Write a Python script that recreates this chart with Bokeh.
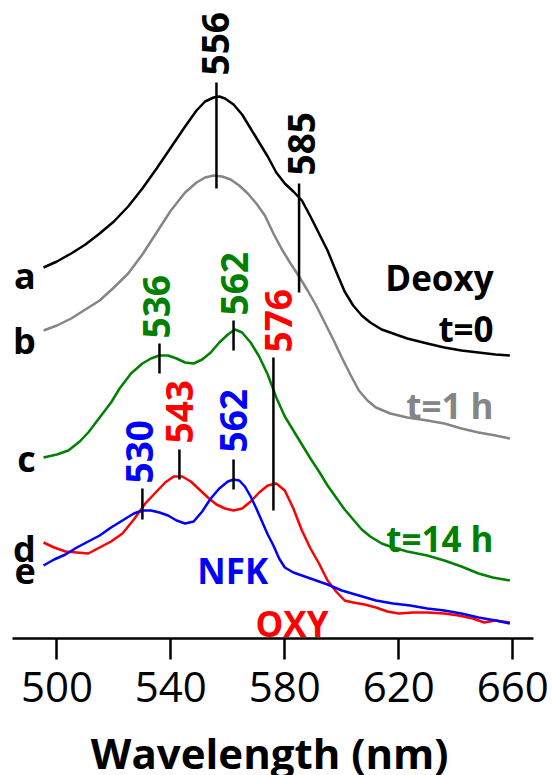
import numpy as np
from bokeh.plotting import figure
from bokeh.layouts import column
from bokeh.models import Range1d, FixedTicker, ColumnDataSource
from bokeh.core.properties import value
from bokeh.embed import file_html
from bokeh.resources import INLINE

FONT = "Open Sans"
BLACK = "#000000"
GRAY = "#858585"
GREEN = "#008000"
RED = "#ff0000"
BLUE = "#0000ff"

# ---------------- spectra (wavelength nm, absorbance a.u. with vertical offsets) ----------------
wl_a = [495.3, 500, 505, 510, 515, 520, 525, 530, 535, 540, 545, 549, 552, 555, 557, 559, 562,
        565, 568, 571, 574, 577, 580, 583, 586, 589, 592, 595, 598, 601, 604, 607, 610, 614,
        618, 623, 630, 636, 642, 648, 654, 659]
abs_a = [3.71, 3.77, 3.85, 3.94, 4.05, 4.17, 4.32, 4.50, 4.70, 4.91, 5.12, 5.28, 5.37, 5.41,
         5.42, 5.40, 5.34, 5.24, 5.10, 4.96, 4.82, 4.66, 4.55, 4.47, 4.38, 4.22, 4.05, 3.88,
         3.67, 3.47, 3.33, 3.23, 3.16, 3.09, 3.05, 3.00, 2.95, 2.91, 2.88, 2.86, 2.84, 2.83]

wl_b = [495.3, 500, 505, 510, 515, 520, 525, 530, 535, 540, 545, 549, 552, 555, 558, 561, 564,
        567, 570, 573, 576, 579, 582, 585, 588, 591, 594, 597, 600, 603, 606, 609, 612, 617,
        623, 630, 636, 642, 648, 654, 659]
abs_b = [3.08, 3.13, 3.20, 3.29, 3.38, 3.51, 3.65, 3.84, 4.06, 4.28, 4.46, 4.56, 4.61, 4.63,
         4.62, 4.59, 4.53, 4.45, 4.35, 4.23, 4.05, 3.89, 3.75, 3.62, 3.48, 3.33, 3.16, 2.99,
         2.81, 2.64, 2.48, 2.38, 2.31, 2.25, 2.21, 2.18, 2.15, 2.10, 2.06, 2.03, 2.00]

wl_c = [495.3, 500, 504, 508, 511, 515, 519, 522, 526, 530, 533, 536, 539, 542, 545, 548, 551,
        554, 557, 560, 562.5, 565, 568, 571, 574, 577, 580, 583, 586, 589, 592, 595, 598, 601,
        604, 607, 610, 614, 618, 623, 630, 636, 642, 648, 653, 659]
abs_c = [1.81, 1.84, 1.88, 1.97, 2.06, 2.21, 2.36, 2.50, 2.65, 2.75, 2.80, 2.83, 2.83, 2.80,
         2.76, 2.75, 2.79, 2.86, 2.96, 3.04, 3.09, 3.06, 2.96, 2.82, 2.64, 2.41, 2.22, 2.08,
         1.94, 1.80, 1.67, 1.53, 1.41, 1.29, 1.19, 1.09, 1.02, 0.95, 0.91, 0.87, 0.83, 0.78,
         0.72, 0.65, 0.61, 0.58]

wl_d = [495.3, 499, 503, 507, 511, 515, 519, 523, 527, 531, 535, 538, 541, 544, 547, 550, 553,
        556, 559, 562, 565, 568, 571, 574, 577, 580, 583, 586, 589, 592, 595, 598, 601, 604,
        608, 612, 616, 620, 625, 630, 636, 641, 646, 650, 654, 659]
abs_d = [0.96, 0.91, 0.87, 0.86, 0.85, 0.91, 0.97, 1.05, 1.19, 1.35, 1.47, 1.56, 1.62, 1.62,
         1.57, 1.49, 1.41, 1.34, 1.30, 1.28, 1.30, 1.37, 1.46, 1.53, 1.55, 1.48, 1.30, 1.08,
         0.90, 0.75, 0.58, 0.47, 0.38, 0.36, 0.34, 0.31, 0.27, 0.25, 0.26, 0.26, 0.25, 0.23,
         0.20, 0.16, 0.18, 0.16]

wl_e = [495.3, 499, 503, 507, 511, 515, 519, 523, 527, 530, 533, 536, 539, 542, 545, 548, 551,
        554, 557, 560, 562, 564, 566, 568, 570, 572, 574, 576, 578, 580, 583, 586, 590, 595,
        600, 606, 612, 618, 624, 630, 636, 642, 648, 654, 659]
abs_e = [0.73, 0.79, 0.84, 0.91, 0.97, 1.03, 1.11, 1.18, 1.25, 1.28, 1.28, 1.26, 1.23, 1.18,
         1.15, 1.17, 1.27, 1.40, 1.50, 1.57, 1.59, 1.58, 1.52, 1.42, 1.30, 1.17, 1.04, 0.93,
         0.80, 0.71, 0.66, 0.63, 0.59, 0.54, 0.48, 0.43, 0.38, 0.35, 0.33, 0.30, 0.28, 0.25,
         0.21, 0.18, 0.15]

series = [(wl_a, abs_a, BLACK), (wl_b, abs_b, GRAY), (wl_c, abs_c, GREEN),
          (wl_d, abs_d, RED), (wl_e, abs_e, BLUE)]

# ---------------- peak markers ----------------
peak_wl = [556, 585, 536, 562, 576, 543, 562, 530]
peak_text = ["556", "585", "536", "562", "576", "543", "562", "530"]
peak_color = [BLACK, BLACK, GREEN, GREEN, RED, RED, BLUE, BLUE]
mark_y0 = [4.50, 3.46, 2.65, 2.88, 1.28, 1.59, 1.49, 1.19]
mark_y1 = [5.56, 4.55, 2.95, 3.18, 2.81, 1.89, 1.79, 1.50]
label_y = [5.63, 4.63, 3.00, 3.23, 2.86, 1.95, 1.86, 1.55]
label_dx = [-0.3, 1.0, -1.0, 0.5, 1.8, 0.0, 0.0, -1.0]

# ---------------- curve letters and legends ----------------
letters = ["a", "b", "c", "d", "e"]
letter_y = [3.63, 2.98, 1.80, 0.90, 0.68]

legend_text = ["Deoxy", "t=0", "t=1 h", "t=14 h"]
legend_color = [BLACK, BLACK, GRAY, GREEN]
legend_y = [3.61, 3.10, 2.33, 1.00]

ticks = [500, 540, 580, 620, 660]
x_title = "Wavelength (nm)"

p = figure(width=552, height=724, x_range=Range1d(484.4, 667.3), y_range=Range1d(0, 6.38),
           output_backend="svg", toolbar_location=None, y_axis_location=None, title=None,
           min_border_left=12, min_border_right=19, min_border_top=0, min_border_bottom=86)
p.grid.visible = False
p.outline_line_color = None

ax = p.xaxis[0]
ax.ticker = FixedTicker(ticks=ticks)
ax.major_tick_out = 21
ax.major_tick_in = 0
ax.minor_tick_line_color = None
ax.axis_line_width = 2.5
ax.major_tick_line_width = 2.5
ax.major_label_text_font = FONT
ax.major_label_text_font_size = "42px"
ax.major_label_text_color = BLACK
ax.major_label_standoff = 12

for wl, ab, col in series:
    p.line(wl, ab, line_color=col, line_width=2.5, line_join="round")

p.segment(x0=peak_wl, y0=mark_y0, x1=peak_wl, y1=mark_y1, line_color=BLACK, line_width=2.5)

src = ColumnDataSource(dict(x=[w + d for w, d in zip(peak_wl, label_dx)], y=label_y,
                            t=peak_text, c=peak_color))
p.text(x="x", y="y", text="t", text_color="c", source=src, angle=np.pi / 2,
       text_align="left", text_baseline="middle", text_font=value(FONT),
       text_font_style="bold", text_font_size="37px")

p.text(x=[492.6] * len(letters), y=letter_y, text=letters, text_color=BLACK,
       text_align="right", text_baseline="alphabetic", text_font=value(FONT),
       text_font_style="bold", text_font_size="36px")

p.text(x=[653.3] * len(legend_text), y=legend_y, text=legend_text, text_color=legend_color,
       text_align="right", text_baseline="alphabetic", text_font=value(FONT),
       text_font_style="bold", text_font_size="35px")

p.text(x=[549.3, 569.7], y=[0.68, 0.15], text=["NFK", "OXY"], text_color=[BLUE, RED],
       text_align="left", text_baseline="alphabetic", text_font=value(FONT),
       text_font_style="bold", text_font_size="35px")

# x-axis title strip (separate svg figure so the title can sit at the very bottom)
pt = figure(width=552, height=51, x_range=Range1d(0, 552), y_range=Range1d(0, 51),
            output_backend="svg", toolbar_location=None, x_axis_location=None,
            y_axis_location=None, title=None, min_border=0)
pt.grid.visible = False
pt.outline_line_color = None
pt.text(x=[83], y=[23], text=[x_title], text_color=BLACK, text_align="left",
        text_baseline="alphabetic", text_font=value(FONT), text_font_style="bold",
        text_font_size="42px")

layout = column(p, pt, spacing=0)
open("out.html", "w").write(file_html(layout, INLINE))
